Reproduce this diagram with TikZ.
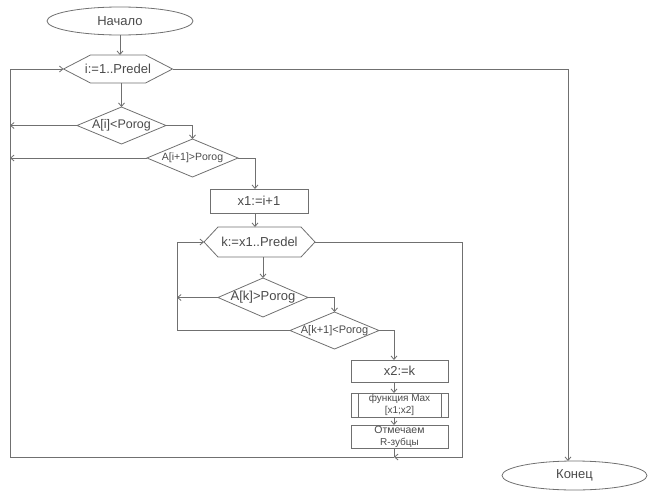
\documentclass[tikz,border=0pt]{standalone}
\usepackage{fontspec}
\setmainfont{Liberation Sans}
\usetikzlibrary{shapes.geometric,arrows.meta,calc}
\definecolor{ln}{HTML}{707070}
\definecolor{tx}{HTML}{4A4A4A}
\newcommand\hexout[2]{\draw[line] (#1.west) -- ([xshift=#2]#1.north west) -- ([xshift=-#2]#1.north east) -- (#1.east) -- ([xshift=-#2]#1.south east) -- ([xshift=#2]#1.south west) -- cycle;}
\newcommand\fs[1]{\fontsize{#1}{#1}\selectfont}
\begin{document}
\begin{tikzpicture}[x=1pt,y=-1pt,
  every node/.style={text=tx, inner sep=0pt, outer sep=0pt},
  line/.style={draw=ln, line width=0.8pt},
  arr/.style={line, -{Straight Barb[length=3.5pt,width=6pt]}},
  term/.style={ellipse, draw=ln, line width=0.8pt, minimum width=#1, minimum height=28},
  hexn/.style={rectangle, draw=none},
  dec/.style={diamond, draw=ln, line width=0.8pt},
  proc/.style={rectangle, draw=ln, line width=0.8pt, align=center}]
\useasboundingbox (0,0) rectangle (654,493);
% nodes
\node[term=146] (start) at (120,21) {\fs{13}Начало};
\node[hexn, minimum width=109, minimum height=28] (h1) at (118,69) {\fs{13}i:=1..Predel};
\node[dec, minimum width=89, minimum height=37] (d1) at (121.5,125.5) {\makebox[0pt]{\fs{12.5}A[i]<Porog}};
\node[dec, minimum width=91, minimum height=38] (d2) at (192.5,158) {\makebox[0pt]{\fs{10.5}A[i+1]>Porog}};
\node[proc, minimum width=98, minimum height=24] (b1) at (259,201) {\fs{13}x1:=i+1};
\node[hexn, minimum width=111, minimum height=30] (h2) at (259.5,242) {\fs{13}k:=x1..Predel};
\node[dec, minimum width=90, minimum height=39] (d3) at (263,297.5) {\makebox[0pt]{\fs{13}A[k]>Porog}};
\node[dec, minimum width=89, minimum height=37] (d4) at (334.5,330.5) {\makebox[0pt]{\fs{11}A[k+1]<Porog}};
\node[proc, minimum width=97, minimum height=22] (b2) at (399.5,371) {\fs{13}x2:=k};
\node[proc, minimum width=97, minimum height=24] (b3) at (399.5,405) {\fontsize{10}{11}\selectfont функция Max\\{}[x1;x2]};
\node[proc, minimum width=97, minimum height=23] (b4) at (399.5,436.5) {\fontsize{10.5}{11.5}\selectfont Отмечаем\\R-зубцы};
\node[term=145, minimum height=29] (end) at (574.5,475.5) {\fs{13}Конец};
% outlines
\hexout{h1}{27}
\hexout{h2}{14}
\draw[line] ([xshift=7]b3.north west) -- ([xshift=7]b3.south west);
\draw[line] ([xshift=-7]b3.north east) -- ([xshift=-7]b3.south east);
% helper coordinates
\coordinate (LX) at (10,0);
\coordinate (KX) at (177,0);
\coordinate (RX) at (462,0);
\coordinate (EX) at (568,0);
\coordinate (CX) at (394,0);
\coordinate (BX) at (255,0);
\coordinate (J) at (394,457);
% connectors
\draw[arr] (start.south) -- (start.south |- h1.north);
\draw[arr] (d1.north |- h1.south) -- (d1.north);
\draw[arr] (d1.east) -| (d2.north);
\draw[arr] (d1.west) -- (d1.west -| LX);
\draw[arr] (d2.west) -- (d2.west -| LX);
\draw[arr] (d2.east) -| (BX |- b1.north);
\draw[arr] (BX |- b1.south) -- (BX |- h2.north);
\draw[arr] (d3.north |- h2.south) -- (d3.north);
\draw[arr] (d3.east) -| (d4.north);
\draw[arr] (d3.west) -- (d3.west -| KX);
\draw[arr] (d4.west) -| (KX |- h2.west) -- (h2.west);
\draw[arr] (d4.east) -| (CX |- b2.north);
\draw[arr] (CX |- b2.south) -- (CX |- b3.north);
\draw[arr] (CX |- b3.south) -- (CX |- b4.north);
\draw[line] (CX |- b4.south) -- (J);
\draw[arr] (h2.east) -| (RX |- J) -- (J);
\draw[arr] (J) -- (LX |- J) -- (LX |- h1.west) -- (h1.west);
\draw[arr] (h1.east) -| (EX |- end.north);
\end{tikzpicture}
\end{document}
